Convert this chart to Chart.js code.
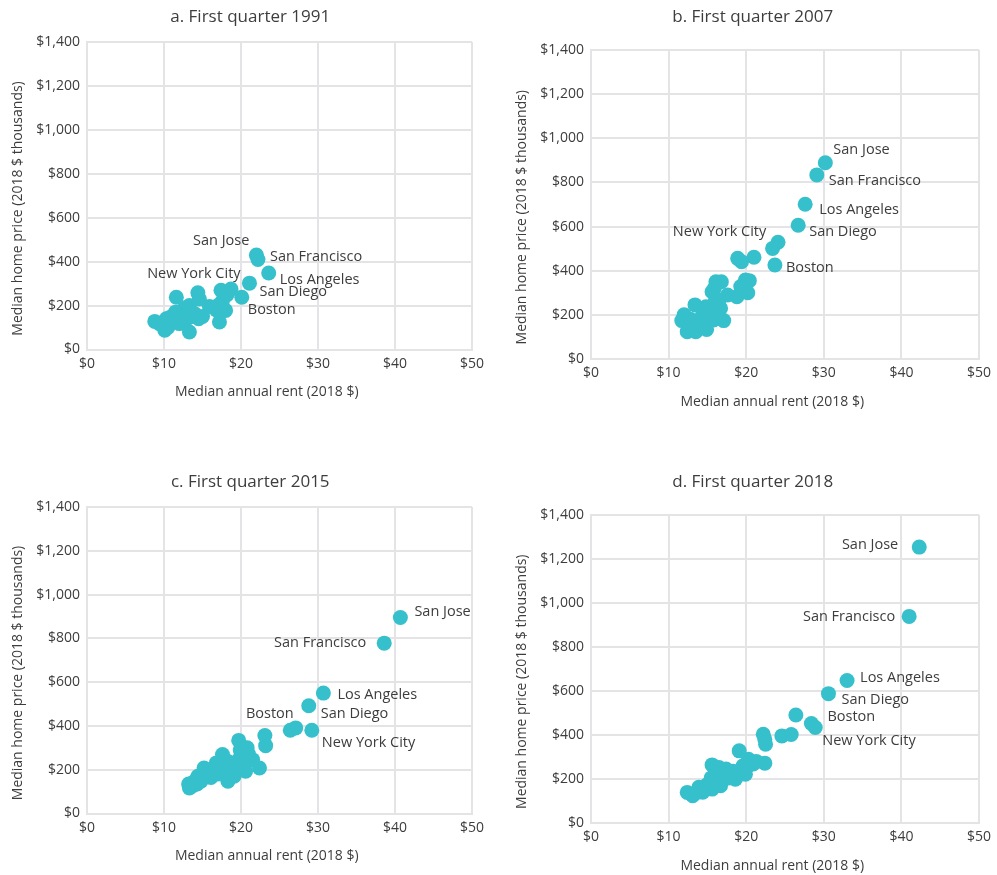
<!DOCTYPE html>
<html>
<head>
<meta charset="utf-8">
<script src="https://cdn.jsdelivr.net/npm/chart.js@4.4.1/dist/chart.umd.min.js"></script>
<style>
  html, body { margin: 0; padding: 0; background: #fff; overflow: hidden; }
  body { width: 997px; height: 875px; position: relative; }
  canvas { position: absolute; }
</style>
</head>
<body>
<canvas id="chartA" width="490" height="404" style="left:0;top:0"></canvas>
<canvas id="chartB" width="500" height="414" style="left:497px;top:0"></canvas>
<canvas id="chartC" width="490" height="403" style="left:0;top:465px"></canvas>
<canvas id="chartD" width="500" height="413" style="left:497px;top:465px"></canvas>
<script>
// labelled metros come first in every series, same order
var cityNames = ['San Jose', 'San Francisco', 'Los Angeles', 'San Diego', 'Boston', 'New York City'];

var panelTitles = ['a. First quarter 1991', 'b. First quarter 2007', 'c. First quarter 2015', 'd. First quarter 2018'];

var rentTicks = [0, 10, 20, 30, 40, 50];
var priceTicks = [0, 200, 400, 600, 800, 1000, 1200, 1400];

// 1991
var rent1991 = [22.0, 22.2, 23.6, 21.1, 20.1, 14.4,
    18.7, 17.4, 17.6, 17.2, 15.9, 14.6, 11.6, 13.3, 12.4, 14.0,
    11.2, 10.3, 8.8, 10.1, 13.3, 15.0, 12.4, 12.0, 9.4, 18.0,
    17.0, 13.0, 11.0, 12.8, 10.7, 13.6, 14.5, 11.5, 13.1, 9.8,
    10.5, 12.2, 16.8, 18.2];
var price1991 = [430, 410, 348, 302, 238, 258,
    275, 270, 222, 125, 196, 230, 238, 200, 178, 163,
    155, 140, 128, 88, 80, 150, 132, 118, 118, 178,
    200, 140, 125, 190, 145, 150, 140, 170, 165, 112,
    100, 150, 180, 250];

// 2007
var rent2007 = [30.2, 29.1, 27.6, 26.7, 23.7, 19.4,
    24.1, 23.4, 21.0, 18.9, 19.9, 20.2, 18.8, 17.6, 16.1, 16.8,
    15.6, 16.5, 13.4, 14.8, 15.6, 16.7, 11.7, 17.1, 12.4, 13.5,
    14.9, 13.9, 15.2, 13.0, 14.4, 16.0, 19.3, 15.8, 12.0, 20.4,
    15.9, 14.2, 12.8, 16.3];
var price2007 = [889, 834, 701, 606, 426, 441,
    529, 501, 461, 456, 358, 300, 282, 290, 350, 350,
    305, 267, 245, 237, 222, 230, 174, 174, 124, 124,
    134, 177, 177, 155, 200, 260, 328, 177, 200, 355,
    320, 165, 180, 200];

// 2015
var rent2015 = [40.7, 38.6, 30.7, 28.8, 27.1, 29.2,
    26.4, 23.1, 23.2, 19.7, 20.8, 19.9, 17.6, 22.4, 21.5, 20.6,
    19.1, 18.3, 18.9, 16.8, 15.2, 15.5, 14.2, 13.3, 13.2, 14.3,
    16.1, 17.7, 19.7, 16.9, 13.7, 14.8, 18.3, 14.4, 15.5, 17.2,
    20.2, 21.0, 13.8, 16.5];
var price2015 = [895, 778, 550, 492, 391, 380,
    380, 356, 310, 334, 300, 290, 269, 208, 246, 193,
    170, 147, 223, 231, 208, 180, 155, 117, 135, 135,
    165, 200, 245, 180, 140, 148, 238, 170, 200, 215,
    225, 270, 128, 190];

// 2018
var rent2018 = [42.3, 41.0, 33.0, 30.6, 28.4, 28.9,
    26.4, 25.8, 24.6, 22.2, 22.5, 22.4, 22.4, 19.1, 20.3, 20.9,
    19.9, 18.6, 17.4, 16.5, 15.6, 16.7, 15.6, 13.9, 12.4, 13.1,
    15.0, 16.1, 18.3, 19.6, 14.4, 15.5, 19.3, 17.8, 13.7, 20.0,
    16.9, 14.8, 18.0, 21.3];
var price2018 = [1254, 939, 648, 588, 452, 434,
    491, 402, 396, 403, 358, 380, 272, 328, 290, 268,
    222, 199, 245, 252, 264, 169, 154, 162, 139, 124,
    175, 200, 235, 260, 140, 205, 240, 205, 140, 250,
    220, 160, 225, 280];

var dotColor = '#35c0cc';
var gridColor = '#e4e4e6';
var textColor = '#3d3d3d';
var fontFamily = "'Open Sans', 'DejaVu Sans', sans-serif";
var nb = '\u00a0';

// where each city name sits relative to its dot (pixels)
var placementA = [[-7, -14, 'right'], [12, -3, 'left'], [11, 7, 'left'], [10, 9, 'left'], [6, 13, 'left'], [-4, -19, 'center']];
var placementB = [[8, -13, 'left'], [12, 6, 'left'], [14, 6, 'left'], [11, 7, 'left'], [11, 3, 'left'], [-22, -30, 'center']];
var placementC = [[14, -6, 'left'], [-18, 0, 'right'], [14, 2, 'left'], [12, 8, 'left'], [-2, -14, 'right'], [10, 13, 'left']];
var placementD = [[-21, -2, 'right'], [-14, 0, 'right'], [13, -3, 'left'], [13, 6, 'left'], [16, -7, 'left'], [7, 13, 'left']];

var cityLabels = {
    id: 'cityLabels',
    afterDatasetsDraw: function(chart, args, opts) {
        var ctx = chart.ctx;
        var pts = chart.getDatasetMeta(0).data;
        ctx.save();
        ctx.font = '14.5px ' + fontFamily;
        ctx.fillStyle = textColor;
        ctx.textBaseline = 'middle';
        cityNames.forEach(function(name, i) {
            var p = opts.placement[i];
            ctx.textAlign = p[2];
            ctx.fillText(name, pts[i].x + p[0], pts[i].y + p[1]);
        });
        ctx.restore();
    }
};

function makePanel(id, title, xs, ys, placement, wide) {
    var pts = xs.map(function(x, i) { return { x: x, y: ys[i] }; });
    return new Chart(document.getElementById(id), {
        type: 'scatter',
        data: {
            datasets: [{
                data: pts,
                backgroundColor: dotColor,
                borderWidth: 0,
                pointRadius: 7.5,
                pointHoverRadius: 7.5
            }]
        },
        options: {
            responsive: false,
            animation: false,
            layout: { padding: { left: 0, right: wide ? 15 : 16, top: 0, bottom: 0 } },
            plugins: {
                legend: { display: false },
                tooltip: { enabled: false },
                title: {
                    display: true,
                    // leading spaces push the title a bit right, like the source
                    text: nb.repeat(6) + title,
                    color: textColor,
                    font: { family: fontFamily, size: 17, weight: 'normal' },
                    padding: { top: 7, bottom: wide ? 22.6 : 14.6 }
                },
                cityLabels: { placement: placement }
            },
            scales: {
                x: {
                    type: 'linear',
                    min: rentTicks[0],
                    max: rentTicks[rentTicks.length - 1],
                    afterBuildTicks: function(s) { s.ticks = rentTicks.map(function(v) { return { value: v }; }); },
                    afterFit: function(s) { s.height = wide ? 55 : 54.5; },
                    grid: { color: gridColor, lineWidth: 2, drawTicks: false },
                    border: { color: gridColor, width: 2 },
                    ticks: {
                        color: textColor,
                        padding: 6,
                        maxRotation: 0,
                        font: { family: fontFamily, size: 14 },
                        callback: function(v) { return '$' + v; }
                    },
                    title: {
                        display: true,
                        text: 'Median annual rent (2018 $)' + nb.repeat(7),
                        color: textColor,
                        padding: { top: 4, bottom: 4 },
                        font: { family: fontFamily, size: 14 }
                    }
                },
                y: {
                    type: 'linear',
                    min: priceTicks[0],
                    max: priceTicks[priceTicks.length - 1],
                    afterBuildTicks: function(s) { s.ticks = priceTicks.map(function(v) { return { value: v }; }); },
                    afterFit: function(s) { s.width = wide ? 94 : 87; },
                    grid: { color: gridColor, lineWidth: 2, drawTicks: false },
                    border: { color: gridColor, width: 2 },
                    ticks: {
                        color: textColor,
                        padding: 7,
                        font: { family: fontFamily, size: 14 },
                        callback: function(v) { return '$' + v.toLocaleString('en-US'); }
                    },
                    title: {
                        display: true,
                        // trailing spaces nudge the rotated title a little lower
                        text: 'Median home price (2018 $ thousands)' + nb.repeat(7),
                        color: textColor,
                        padding: { top: wide ? 16.3 : 9.6, bottom: 0 },
                        font: { family: fontFamily, size: 14 }
                    }
                }
            }
        },
        plugins: [cityLabels]
    });
}

makePanel('chartA', panelTitles[0], rent1991, price1991, placementA, false);
makePanel('chartB', panelTitles[1], rent2007, price2007, placementB, true);
makePanel('chartC', panelTitles[2], rent2015, price2015, placementC, false);
makePanel('chartD', panelTitles[3], rent2018, price2018, placementD, true);
</script>
</body>
</html>
